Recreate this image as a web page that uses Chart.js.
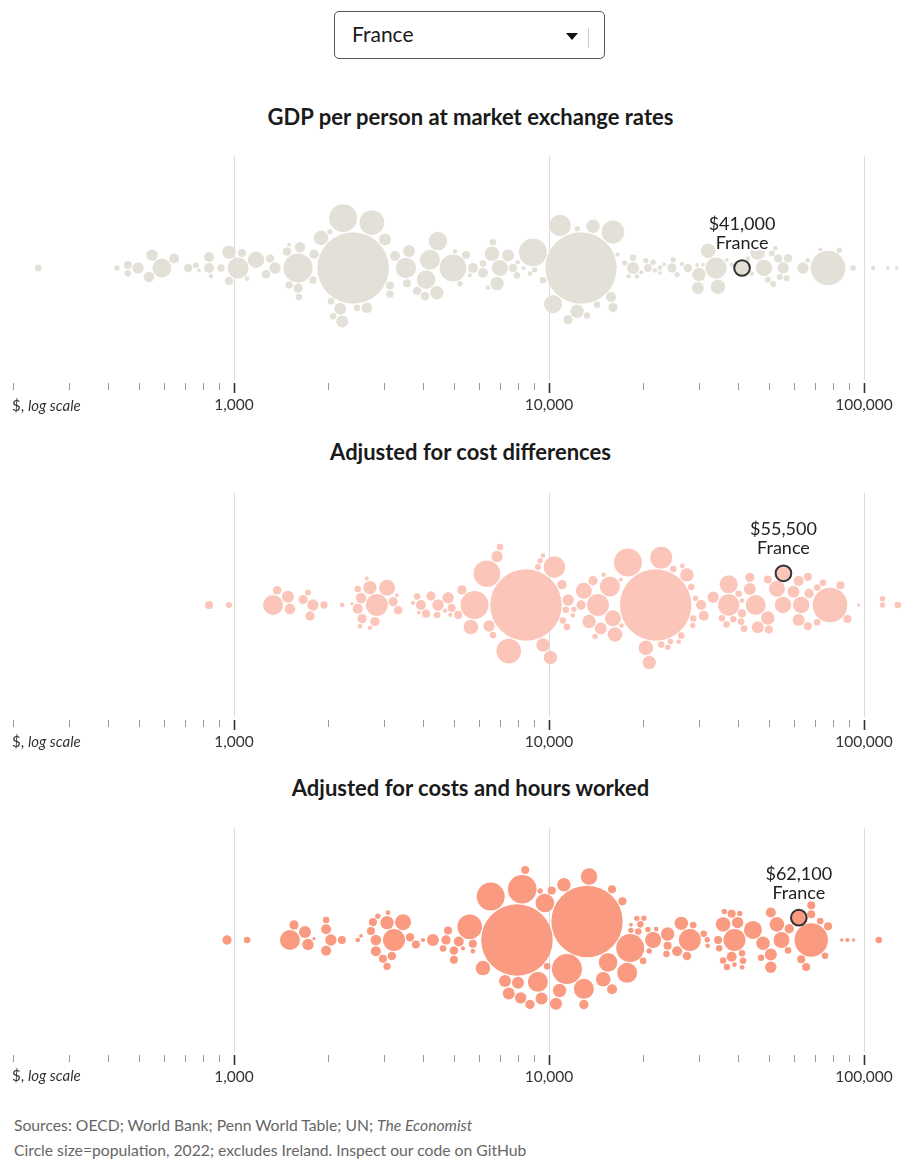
<!DOCTYPE html>
<html lang="en">
<head>
<meta charset="UTF-8">
<title>GDP per person</title>
<script src="https://cdn.jsdelivr.net/npm/chart.js@4"></script>
<style>
  body { margin: 0; background: #fff; font-family: Lato, sans-serif; color: #1a1a1a; }
  .page { position: relative; width: 909px; height: 1162px; overflow: hidden; }
  .select { position: absolute; left: 334px; top: 11px; width: 269px; height: 46px; border: 1px solid #555; border-radius: 5px; }
  .select .txt { position: absolute; left: 17px; top: 10px; font-size: 21px; line-height: 24px; }
  .select .arrow { position: absolute; left: 231px; top: 21px; width: 0; height: 0; border-left: 6px solid transparent; border-right: 6px solid transparent; border-top: 7px solid #111; }
  .select .sep { position: absolute; left: 253px; top: 16px; width: 1px; height: 20px; background: #ccc; }
  .title { position: absolute; left: 32px; width: 877px; text-align: center; font-weight: bold; font-size: 22px; line-height: 26px; }
  .unit { position: absolute; left: 12px; font-size: 15px; line-height: 18px; color: #333; }
  .panel { position: absolute; left: 0; }
  .note { position: absolute; left: 14px; font-size: 15.7px; line-height: 18px; color: #666; }
</style>
</head>
<body>
<div class="page">
  <div class="select"><span class="txt">France</span><span class="arrow"></span><span class="sep"></span></div>

  <div class="title" style="top:104px">GDP per person at market exchange rates</div>
  <canvas class="panel" id="c1" width="909" height="268" style="top:152px"></canvas>
  <div class="unit" style="top:396px">$, <i>log scale</i></div>

  <div class="title" style="top:439px">Adjusted for cost differences</div>
  <canvas class="panel" id="c2" width="909" height="268" style="top:489px"></canvas>
  <div class="unit" style="top:732px">$, <i>log scale</i></div>

  <div class="title" style="top:775px">Adjusted for costs and hours worked</div>
  <canvas class="panel" id="c3" width="909" height="268" style="top:824px"></canvas>
  <div class="unit" style="top:1066px">$, <i>log scale</i></div>

  <div class="note" style="top:1116px">Sources: OECD; World Bank; Penn World Table; UN; <i>The Economist</i></div>
  <div class="note" style="top:1141px">Circle size=population, 2022; excludes Ireland. Inspect our code on GitHub</div>
</div>

<script>
// axis
const axisMin = 180.7;
const axisMax = 138950;
const tickValues = [200, 300, 400, 500, 600, 700, 800, 900,
  1000, 2000, 3000, 4000, 5000, 6000, 7000, 8000, 9000,
  10000, 20000, 30000, 40000, 50000, 60000, 70000, 80000, 90000, 100000];
const majorTicks = [1000, 10000, 100000];
const majorLabels = ['1,000', '10,000', '100,000'];

// GDP per person, $ (one value per country circle) and population, m
const marketGdp = [239, 425, 460, 460, 496, 537, 549, 590, 645, 715, 757, 774, 833, 833, 845, 909, 964, 964, 1030, 1060,
  1100, 1175, 1264, 1301, 1350, 1473, 1495, 1495, 1597, 1597, 1608, 1620, 1781, 1795, 1888, 2017, 2032, 2063, 2172, 2205,
  2220, 2388, 2457, 2642, 2740, 3014, 3127, 3127, 3244, 3514, 3540, 3593, 3811, 4039, 4070, 4188, 4405, 4440, 4955, 5027,
  5210, 5450, 5735, 6170, 6170, 6590, 6640, 6840, 6985, 7410, 7690, 7910, 8700, 8890, 9000, 9570, 10300, 10840, 11490, 12270,
  12300, 12640, 13210, 13800, 14200, 15730, 15960, 15960, 17400, 17900, 18480, 18480, 19000, 20300, 20620, 21400, 21700, 22500, 22500, 24560,
  24800, 25500, 27610, 29500, 29700, 29900, 30800, 31990, 33900, 34400, 36700, 42800, 46000, 48140, 49500, 51000, 51500, 52300, 53400, 54000,
  55350, 56800, 57400, 64000, 66300, 72600, 76900, 83500, 92300, 106900, 119000, 127000,
  5600, 6400, 7950, 8300, 16500, 19600, 23200, 26400, 38000, 44000];
const marketPop = [13, 8, 18, 12, 36, 31, 36, 99, 28, 20, 10, 4, 28, 28, 6, 15, 50, 20, 123, 18,
  6, 76, 20, 18, 36, 20, 15, 4, 235, 24, 12, 31, 15, 24, 59, 8, 12, 12, 40, 40,
  218, 1417, 12, 31, 171, 40, 15, 18, 28, 115, 18, 40, 20, 20, 96, 111, 50, 96, 200, 6,
  8, 18, 28, 28, 12, 59, 12, 50, 71, 40, 18, 12, 6, 215, 8, 12, 90, 127, 24, 50,
  8, 1412, 12, 50, 12, 28, 144, 24, 8, 6, 40, 12, 6, 8, 18, 8, 6, 4, 6, 24,
  8, 8, 20, 4, 40, 50, 4, 59, 125, 59, 4, 6, 59, 76, 10, 10, 10, 6, 18, 10,
  36, 10, 20, 36, 6, 4, 333, 8, 9, 6, 4, 4,
  5, 6, 6, 5, 5, 5, 4, 5, 5, 6];

const costGdp = [833, 964, 1330, 1370, 1483, 1505, 1656, 1717, 1743, 1781, 1930, 2205, 2370, 2470, 2470, 2510, 2530, 2550, 2640, 2700,
  2700, 2800, 2840, 3060, 3200, 3290, 3320, 3700, 3810, 3860, 3920, 4070, 4220, 4410, 4440, 4680, 4780, 4860, 4910, 5150,
  5290, 5650, 5800, 6350, 6450, 6640, 6840, 6990, 7450, 8450, 9220, 9370, 9570, 9570, 10100, 10400, 11000, 11070, 11300, 11400,
  11500, 11900, 12000, 12640, 12900, 13400, 13800, 14000, 14300, 14600, 14900, 15600, 15950, 16200, 16900, 17000, 17800, 20300, 20800, 21800,
  22700, 22700, 23800, 24300, 24800, 25800, 26300, 26500, 27400, 28300, 28600, 28700, 29200, 30400, 31000, 33200, 35400, 36600, 37200, 37200,
  38500, 40000, 40700, 41000, 41000, 41600, 43400, 43400, 45300, 46000, 49500, 49500, 49900, 52900, 55300, 59700, 62000, 62000, 63200, 66300,
  66300, 66900, 71000, 71000, 74100, 78000, 84200, 88600, 96000, 114500, 114500, 128000];
const costPop = [18, 10, 111, 20, 40, 31, 24, 10, 24, 36, 15, 6, 3, 12, 28, 6, 31, 24, 4, 6,
  50, 24, 134, 71, 24, 4, 20, 5, 12, 4, 28, 18, 24, 12, 36, 5, 36, 5, 18, 18,
  24, 59, 217, 196, 36, 12, 36, 12, 168, 1417, 10, 8, 6, 50, 50, 127, 24, 12, 12, 12,
  36, 6, 8, 24, 71, 50, 24, 8, 134, 40, 6, 111, 71, 59, 4, 6, 217, 59, 50, 1412,
  12, 134, 8, 8, 12, 6, 12, 6, 50, 12, 8, 12, 8, 28, 28, 36, 12, 12, 90, 127,
  12, 12, 12, 6, 18, 12, 40, 24, 111, 40, 18, 50, 18, 71, 76, 40, 40, 28, 76, 18,
  18, 24, 12, 12, 12, 333, 18, 18, 3, 8, 8, 12];

const hoursGdp = [950, 1100, 1505, 1550, 1680, 1717, 1795, 1960, 1960, 1960, 2030, 2200, 2470, 2530, 2720, 2760, 2820, 2820, 2860, 2970,
  3060, 3060, 3080, 3170, 3220, 3440, 3620, 3780, 3980, 4280, 4610, 4710, 4780, 4990, 4990, 5170, 5330, 5600, 5730, 5730,
  6170, 6530, 7250, 7450, 7910, 7970, 8130, 8220, 8400, 8700, 9220, 9370, 9470, 9700, 9860, 10200, 10520, 10800, 11150, 11400,
  12900, 12900, 13200, 13400, 14860, 15400, 15850, 15850, 17100, 17700, 18100, 18200, 18200, 19000, 19200, 19500, 19900, 20000, 20600, 20800,
  21400, 21900, 23600, 23800, 23800, 25500, 26300, 27400, 28000, 28700, 31000, 31800, 31900, 34400, 34700, 35700, 35700, 36000, 36700, 38000,
  38000, 38800, 38800, 39700, 40300, 41000, 41000, 41300, 44400, 47100, 47800, 50600, 50600, 50600, 52900, 54700, 57400, 57900, 63200, 65500,
  68000, 68000, 68000, 72600, 75200, 76900, 85000, 88600, 92700, 111400];
const hoursPop = [24, 12, 111, 24, 40, 36, 3, 12, 28, 28, 36, 18, 6, 4, 18, 18, 31, 28, 8, 18,
  15, 50, 6, 20, 134, 71, 20, 18, 5, 40, 12, 24, 18, 20, 18, 28, 5, 168, 6, 18,
  59, 217, 40, 40, 1417, 40, 36, 227, 18, 24, 111, 8, 40, 96, 12, 18, 40, 50, 50, 249,
  111, 24, 1412, 76, 59, 96, 28, 18, 18, 111, 217, 8, 4, 8, 12, 12, 12, 8, 8, 8,
  71, 6, 12, 18, 50, 28, 50, 20, 134, 12, 12, 8, 6, 18, 12, 59, 12, 8, 12, 28,
  18, 6, 134, 36, 8, 6, 12, 12, 90, 12, 50, 36, 40, 28, 59, 71, 12, 24, 18, 18,
  309, 18, 18, 12, 12, 18, 3, 5, 3, 12];

const panelGdp = [marketGdp, costGdp, hoursGdp];
const panelPop = [marketPop, costPop, hoursPop];
const franceGdp = [41000, 55500, 62100];
const francePop = 68;
const panelColors = ['#e3e1d7', '#fbc6b9', '#f99a81'];

const radiusOf = pop => Math.max(1.6, 0.95 * Math.sqrt(pop));
const GAP = 1;

// simple beeswarm: largest circles first, each one as close to the middle line as it fits.
// the highlighted country goes on the upper side so its label stays clear
function swarm(chart) {
  const xs = chart.scales.x, ys = chart.scales.y;
  const unit = ys.getPixelForValue(0) - ys.getPixelForValue(1);
  const pts = [];
  chart.data.datasets.forEach((ds, di) => ds.data.forEach(p =>
    pts.push({ p, x: xs.getPixelForValue(p.x), r: p.r, y: 0, up: di === 1 })));
  pts.sort((a, b) => b.r - a.r);
  const placed = [];
  pts.forEach(c => {
    let cands = [0];
    placed.forEach(q => {
      const d = c.r + q.r + GAP, dx = c.x - q.x;
      if (Math.abs(dx) < d) {
        const dy = Math.sqrt(d * d - dx * dx);
        cands.push(q.y - dy, q.y + dy);
      }
    });
    // nearest to the middle first; on a near tie go upwards
    cands.sort((a, b) => {
      const diff = Math.abs(a) - Math.abs(b);
      return Math.abs(diff) < 0.5 ? a - b : diff;
    });
    if (c.up) cands = cands.filter(y => y <= 0.5).concat(cands.filter(y => y > 0.5));
    for (const y of cands) {
      const ok = placed.every(q => {
        const d = c.r + q.r + GAP - 0.01;
        return (c.x - q.x) ** 2 + (y - q.y) ** 2 >= d * d;
      });
      if (ok) { c.y = y; break; }
    }
    placed.push(c);
  });
  pts.forEach(c => { c.p.y = -c.y / unit; });
}

const franceLabel = {
  id: 'franceLabel',
  afterDatasetsDraw(chart) {
    const el = chart.getDatasetMeta(1).data[0];
    const value = chart.data.datasets[1].data[0].x;
    const ctx = chart.ctx;
    ctx.save();
    ctx.font = '18px Lato';
    ctx.textAlign = 'center';
    ctx.textBaseline = 'middle';
    const lines = [['$' + value.toLocaleString('en-US'), el.y - 44], ['France', el.y - 25]];
    ctx.strokeStyle = '#fff';
    ctx.lineWidth = 4;
    ctx.lineJoin = 'round';
    lines.forEach(([t, y]) => ctx.strokeText(t, el.x, y));
    ctx.fillStyle = '#222';
    lines.forEach(([t, y]) => ctx.fillText(t, el.x, y));
    ctx.restore();
  }
};

const isMajor = c => c.tick && majorTicks.includes(c.tick.value);

function makePanel(id, i) {
  const gdp = panelGdp[i], pop = panelPop[i];
  const circles = gdp.map((v, k) => ({ x: v, y: 0, r: radiusOf(pop[k]) }));
  const chart = new Chart(document.getElementById(id), {
    type: 'bubble',
    data: {
      datasets: [
        { data: circles, backgroundColor: panelColors[i], borderWidth: 0, clip: false, order: 1 },
        { data: [{ x: franceGdp[i], y: 0, r: radiusOf(francePop) }], backgroundColor: panelColors[i],
          borderColor: '#333', borderWidth: 2, clip: false, order: 0 }
      ]
    },
    options: {
      responsive: false,
      animation: false,
      events: [],
      layout: { autoPadding: false, padding: { top: 4, left: 0, right: 0, bottom: 0 } },
      plugins: { legend: { display: false }, tooltip: { enabled: false } },
      scales: {
        x: {
          type: 'logarithmic',
          min: axisMin,
          max: axisMax,
          afterBuildTicks: s => { s.ticks = tickValues.map(v => ({ value: v })); },
          afterFit: s => { s.height = 40; },
          border: { display: false },
          grid: {
            color: c => isMajor(c) ? '#dcdcdc' : 'rgba(0,0,0,0)',
            lineWidth: 1,
            tickLength: 13,
            tickColor: c => isMajor(c) ? '#333' : '#9a9a9a',
            tickWidth: c => isMajor(c) ? 1.6 : 1,
            tickBorderDash: c => isMajor(c) ? [0, 3, 10, 20] : [0, 3, 7, 20]
          },
          ticks: {
            autoSkip: false,
            maxRotation: 0,
            padding: 3,
            color: '#333',
            font: { family: 'Lato', size: 15.5 },
            callback: v => {
              const k = majorTicks.indexOf(v);
              return k >= 0 ? majorLabels[k] : '';
            }
          }
        },
        y: { display: false, min: -112, max: 112 }
      }
    },
    plugins: [franceLabel]
  });
  swarm(chart);
  chart.update();
  return chart;
}

makePanel('c1', 0);
makePanel('c2', 1);
makePanel('c3', 2);
</script>
</body>
</html>
